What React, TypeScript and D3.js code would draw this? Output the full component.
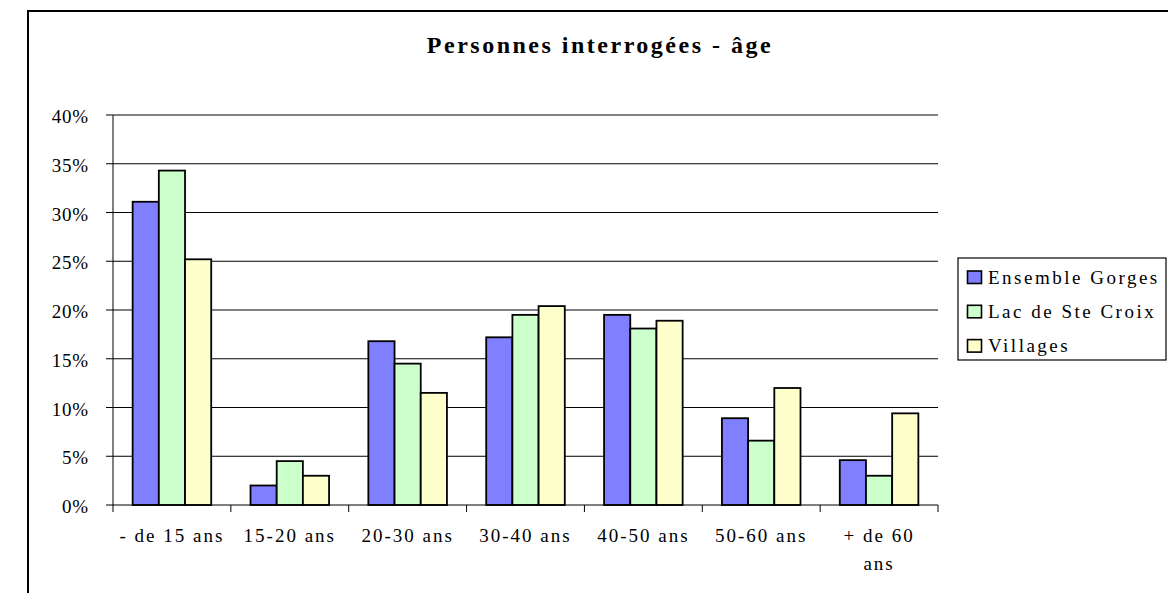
import React from "react";
import * as d3 from "d3";

const title = "Personnes interrogées - âge";
const categories = ["- de 15 ans", "15-20 ans", "20-30 ans", "30-40 ans", "40-50 ans", "50-60 ans", "+ de 60 ans"];
const seriesNames = ["Ensemble Gorges", "Lac de Ste Croix", "Villages"];
const ensembleGorges = [31.1, 2.0, 16.8, 17.2, 19.5, 8.9, 4.6];
const lacDeSteCroix = [34.3, 4.5, 14.5, 19.5, 18.1, 6.6, 3.0];
const villages = [25.2, 3.0, 11.5, 20.4, 18.9, 12.0, 9.4];
const yTicks = [0, 5, 10, 15, 20, 25, 30, 35, 40];
const colors = ["#8080FF", "#CCFFCC", "#FFFFCC"];

const W = 1168;
const H = 593;
const FONT = "'Liberation Serif', 'Times New Roman', serif";
const LABEL_SIZE = 19;
const LABEL_LS = 2;

function measure(text: string, size: number) {
  const c = document.createElement("canvas").getContext("2d");
  if (!c) return text.length * size * 0.42;
  c.font = `${size}px 'Liberation Serif'`;
  return c.measureText(text).width;
}

function wrap(text: string, maxW: number) {
  const words = text.split(" ");
  const lines: string[] = [];
  let cur = "";
  for (const w of words) {
    const t = cur ? cur + " " + w : w;
    if (cur && measure(t, LABEL_SIZE) > maxW) {
      lines.push(cur);
      cur = w;
    } else cur = t;
  }
  if (cur) lines.push(cur);
  return lines;
}

export default function App() {
  const left = 113, right = 938, top = 115, bottom = 505;
  const values = [ensembleGorges, lacDeSteCroix, villages];
  const x0 = d3.scaleBand<string>().domain(categories).range([left, right]).padding(0);
  const bw = x0.bandwidth();
  const x1 = d3.scaleBand<string>().domain(seriesNames).range([bw / 6, (bw * 5) / 6]).padding(0);
  const y = d3.scaleLinear().domain([0, 40]).range([bottom, top]);

  return (
    <svg width={W} height={H} style={{ position: "absolute", left: 0, top: 0, background: "#fff" }} fontFamily={FONT}>
      <rect x={28} y={11} width={1200} height={700} fill="#fff" stroke="#000" strokeWidth={2} />
      <text x={600} y={53} textAnchor="middle" fontWeight="bold" fontSize={24} letterSpacing={2.5} fill="#000">
        {title}
      </text>
      {yTicks.map((t) => (
        <g key={t}>
          <line x1={left - 7} x2={t === 0 ? left : right} y1={y(t)} y2={y(t)} stroke="#000" strokeWidth={1} />
          <text x={89} y={y(t) + 1.5} textAnchor="end" dominantBaseline="central" fontSize={LABEL_SIZE} letterSpacing={0.8} fill="#000">
            {t + "%"}
          </text>
        </g>
      ))}
      {categories.map((c, i) => (
        <g key={c} transform={`translate(${x0(c)},0)`}>
          {seriesNames.map((s, j) => (
            <rect
              key={s}
              x={x1(s)}
              y={y(values[j][i])}
              width={x1.bandwidth()}
              height={bottom - y(values[j][i])}
              fill={colors[j]}
              stroke="#000"
              strokeWidth={1.8}
            />
          ))}
        </g>
      ))}
      <line x1={left} x2={left} y1={top} y2={bottom + 7} stroke="#000" strokeWidth={1} />
      <line x1={left} x2={right} y1={bottom} y2={bottom} stroke="#000" strokeWidth={1.2} />
      {categories.map((c) => (
        <line key={"t" + c} x1={(x0(c) as number) + bw} x2={(x0(c) as number) + bw} y1={bottom} y2={bottom + 7} stroke="#000" strokeWidth={1} />
      ))}
      {categories.map((c) => {
        const lines = wrap(c, 85);
        const cx = (x0(c) as number) + bw / 2;
        return (
          <text key={"l" + c} textAnchor="middle" fontSize={LABEL_SIZE} letterSpacing={LABEL_LS} fill="#000">
            {lines.map((ln, k) => (
              <tspan key={k} x={cx} y={542 + k * 28}>
                {ln}
              </tspan>
            ))}
          </text>
        );
      })}
      <rect x={958} y={258} width={208} height={102} fill="#fff" stroke="#000" strokeWidth={1.2} />
      {seriesNames.map((s, j) => (
        <g key={"lg" + s}>
          <rect x={967.5} y={271 + j * 34.3} width={14} height={12.5} fill={colors[j]} stroke="#000" strokeWidth={1.6} />
          <text x={988} y={283.5 + j * 34.3} fontSize={LABEL_SIZE} letterSpacing={2.5} fill="#000">
            {s}
          </text>
        </g>
      ))}
    </svg>
  );
}
